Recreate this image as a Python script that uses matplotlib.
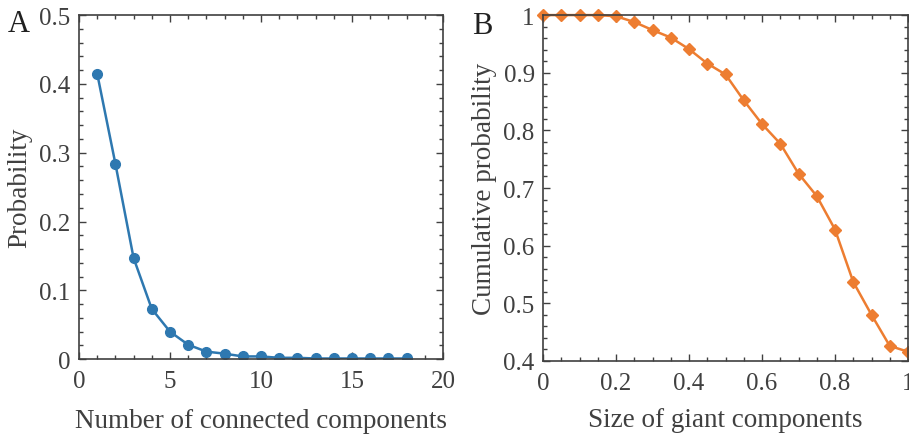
import matplotlib.pyplot as plt
from matplotlib.ticker import MultipleLocator

plt.rcParams['font.family'] = ['Liberation Serif', 'DejaVu Serif']
plt.rcParams['mathtext.fontset'] = 'stix'

# panel A: distribution of number of connected components
n_components = list(range(1, 19))
prob = [0.415, 0.284, 0.147, 0.073, 0.040, 0.021, 0.011, 0.008, 0.004,
        0.004, 0.002, 0.002, 0.001, 0.001, 0.001, 0.001, 0.001, 0.001]

# panel B: cumulative probability of giant component size
giant_size = [0.0, 0.05, 0.1, 0.15, 0.2, 0.25, 0.3, 0.35, 0.4, 0.45, 0.5,
              0.55, 0.6, 0.65, 0.7, 0.75, 0.8, 0.85, 0.9, 0.95, 1.0]
cum_prob = [1.0, 1.0, 1.0, 1.0, 0.998, 0.988, 0.974, 0.961, 0.941, 0.916,
            0.897, 0.852, 0.811, 0.777, 0.725, 0.686, 0.628, 0.537, 0.480,
            0.426, 0.416]

gray = '#404040'
blue = '#2e78b0'
orange = '#ed7d31'

fig = plt.figure(figsize=(9.09, 4.35), dpi=100)
axA = fig.add_axes([0.0869, 0.172, 0.4004, 0.791])
axB = fig.add_axes([0.5974, 0.168, 0.4015, 0.795])


def style(ax):
    for s in ax.spines.values():
        s.set_color(gray)
        s.set_linewidth(1.2)
    ax.tick_params(which='both', direction='in', top=True, right=True,
                   colors=gray, labelsize=18, width=1.0)
    ax.tick_params(which='major', length=5)
    ax.tick_params(which='minor', length=3)
    ax.tick_params(axis='x', pad=8)
    ax.tick_params(axis='y', pad=6)
    ax.xaxis.label.set_color(gray)
    ax.yaxis.label.set_color(gray)


axA.plot(n_components, prob, '-o', color=blue, lw=1.8, markersize=7)
axA.set_xlim(0, 20)
axA.set_ylim(0, 0.5)
axA.xaxis.set_major_locator(MultipleLocator(5))
axA.xaxis.set_minor_locator(MultipleLocator(1))
axA.set_yticks([0, 0.1, 0.2, 0.3, 0.4, 0.5])
axA.set_yticklabels(['0', '0.1', '0.2', '0.3', '0.4', '0.5'])
axA.yaxis.set_minor_locator(MultipleLocator(0.02))
axA.set_xlabel('Number of connected components', fontsize=19.5, labelpad=11)
axA.set_ylabel('Probability', fontsize=19.5, labelpad=5)
style(axA)

axB.plot(giant_size, cum_prob, '-D', color=orange, lw=1.8, markersize=6,
         clip_on=False)
axB.set_xlim(0, 1)
axB.set_ylim(0.4, 1)
axB.set_xticks([0, 0.2, 0.4, 0.6, 0.8, 1.0])
axB.set_xticklabels(['0', '0.2', '0.4', '0.6', '0.8', '1'])
axB.xaxis.set_minor_locator(MultipleLocator(0.05))
axB.set_yticks([0.4, 0.5, 0.6, 0.7, 0.8, 0.9, 1.0])
axB.set_yticklabels(['0.4', '0.5', '0.6', '0.7', '0.8', '0.9', '1'])
axB.yaxis.set_minor_locator(MultipleLocator(0.02))
axB.set_xlabel('Size of giant components', fontsize=19.5, labelpad=9)
axB.set_ylabel('Cumulative probability', fontsize=19.5, labelpad=5)
style(axB)

fig.text(0.008, 0.978, 'A', fontsize=22, color='#202020', va='top')
fig.text(0.519, 0.972, 'B', fontsize=22, color='#202020', va='top')

fig.savefig('out.png', dpi=100)
